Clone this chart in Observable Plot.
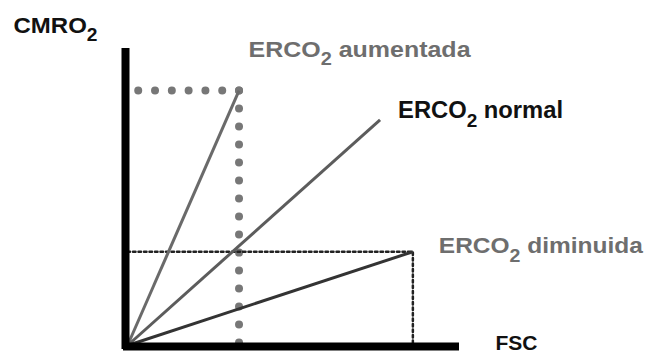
<!DOCTYPE html>
<html>
<head>
<meta charset="utf-8">
<script src="https://cdn.jsdelivr.net/npm/d3@7"></script>
<script src="https://cdn.jsdelivr.net/npm/@observablehq/plot@0.6"></script>
<style>
  html, body { margin: 0; padding: 0; background: #fff; }
  svg { display: block; }
</style>
</head>
<body>
<script>
// ---- data (arbitrary units: FSC on x, CMRO2 on y) ----
const series = ["ERCO₂ aumentada", "ERCO₂ normal", "ERCO₂ diminuida"];
const fscEnd = [3.4, 7.7, 8.7];
const cmroEnd = [8.7, 7.7, 3.2];
const xLabel = "FSC";
const yLabel = "CMRO₂";

// ---- styles ----
const lineColors = ["#6a6a6a", "#5c5c5c", "#333333"];
const labelColors = ["#6e6e6e", "#111111", "#6e6e6e"];
const labelDx = [9.5, 18, 26];
const labelDy = [-34, -2, 1];
const labelSize = [22, 23, 22];
const labelWidths = {"ERCO₂ aumentada": 222, "ERCO₂ normal": 165, "ERCO₂ diminuida": 204, "CMRO₂": 84};
const font = "'Liberation Sans', Arial, sans-serif";

const rows = series.map((s, i) => ({s, x: fscEnd[i], y: cmroEnd[i], i}));
const up = rows[0], down = rows[2];

const marks = [
  // thick gray dotted guides for "aumentada"
  Plot.line([[up.x, up.y], [0, up.y]], {stroke: "#777", strokeWidth: 8, strokeLinecap: "round", strokeDasharray: "0 16.8"}),
  Plot.line([[up.x, up.y], [up.x, 0]], {stroke: "#777", strokeWidth: 8, strokeLinecap: "round", strokeDasharray: "0 18"}),
  // thin dark dotted guides for "diminuida"
  Plot.line([[0, down.y], [down.x, down.y], [down.x, 0]], {stroke: "#222", strokeWidth: 2.5, strokeDasharray: "2.5 3"}),
  // the three lines from the origin
  Plot.link(rows, {x1: 0, y1: 0, x2: "x", y2: "y", stroke: d => lineColors[d.i], strokeWidth: 3}),
  // axes
  Plot.ruleX([0], {y1: 0, y2: 10, stroke: "#000", strokeWidth: 8, strokeLinecap: "square", dx: -2}),
  Plot.ruleY([0], {x1: 0, x2: 10, stroke: "#000", strokeWidth: 8, strokeLinecap: "square", dy: 1}),
  // axis labels
  Plot.text([yLabel], {x: 0, y: 10, text: d => d, dx: -114, dy: -20, textAnchor: "start", lineAnchor: "bottom",
    fill: "#111", fontSize: 22, fontWeight: "bold", fontFamily: font}),
  Plot.text([xLabel], {x: 10, y: 0, text: d => d, dx: 40, dy: 4, textAnchor: "start", lineAnchor: "bottom",
    fill: "#111", fontSize: 21, fontWeight: "bold", fontFamily: font}),
  // series labels
  ...rows.map((r, i) => Plot.text([r], {x: "x", y: "y", text: "s", dx: labelDx[i], dy: labelDy[i],
    textAnchor: "start", lineAnchor: "bottom", fill: labelColors[i], fontSize: labelSize[i],
    fontWeight: "bold", fontFamily: font}))
];

const chart = Plot.plot({
  width: 645,
  height: 354,
  marginLeft: 127,
  marginRight: 190,
  marginTop: 52,
  marginBottom: 9,
  x: {domain: [0, 10], axis: null},
  y: {domain: [0, 10], axis: null},
  style: {background: "#fff", overflow: "visible"},
  marks
});
document.body.append(chart);

// subscripts and widths
const ns = "http://www.w3.org/2000/svg";
chart.querySelectorAll("text").forEach(t => {
  const s = t.textContent;
  if (s.includes("₂")) {
    const [a, b] = s.split("₂");
    t.textContent = "";
    t.append(a);
    const sub = document.createElementNS(ns, "tspan");
    sub.setAttribute("font-size", "0.8em");
    sub.setAttribute("dy", "0.5em");
    sub.textContent = "2";
    t.append(sub);
    if (b) {
      const rest = document.createElementNS(ns, "tspan");
      rest.setAttribute("dy", "-0.4em");
      rest.textContent = b;
      t.append(rest);
    }
  }
  if (labelWidths[s]) {
    t.setAttribute("textLength", labelWidths[s]);
    t.setAttribute("lengthAdjust", "spacingAndGlyphs");
  }
});
</script>
</body>
</html>
